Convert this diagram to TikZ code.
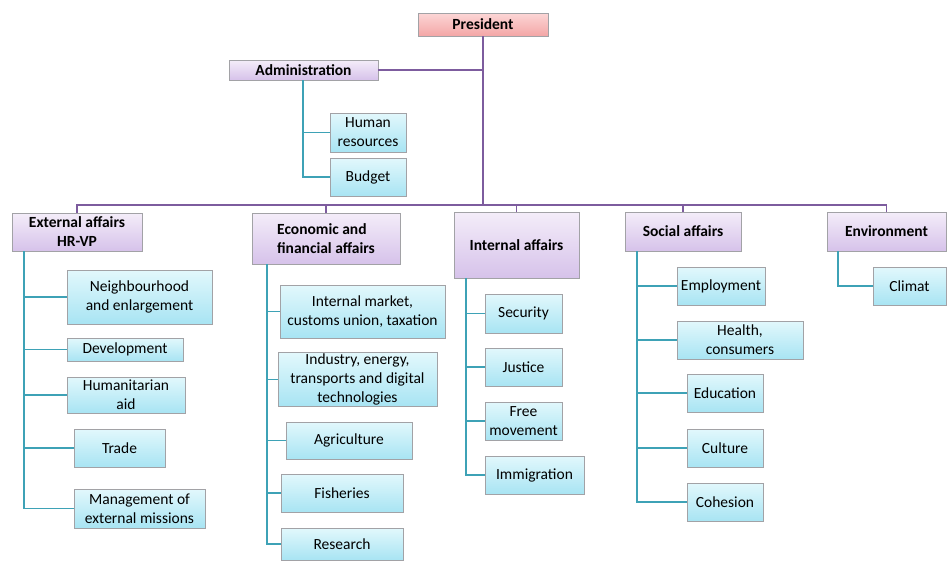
\documentclass[tikz,border=0pt]{standalone}
\usepackage{fontspec}
\setmainfont{Carlito}
\usetikzlibrary{positioning,calc,shadows}

\definecolor{pinktop}{HTML}{FCD6D6}
\definecolor{pinkbot}{HTML}{F3A6A6}
\definecolor{lilactop}{HTML}{F4EDF9}
\definecolor{lilacbot}{HTML}{D6C2EA}
\definecolor{aquatop}{HTML}{E2F8FC}
\definecolor{aquabot}{HTML}{A8E4F3}
\definecolor{boxedge}{HTML}{A2A2A6}
\definecolor{busline}{HTML}{7D5C9E}
\definecolor{twigline}{HTML}{3EA2B6}

\begin{document}
\begin{tikzpicture}[x=1pt, y=-1pt, font=\fontsize{15.5}{19}\selectfont, text=black,
  box/.style = {draw=boxedge, line width=0.6pt, align=center, inner sep=1pt,
                drop shadow={shadow xshift=1.2pt, shadow yshift=-1.2pt, opacity=0.35}},
  head/.style = {box, top color=pinktop, bottom color=pinkbot, font=\fontsize{15.5}{19}\selectfont\bfseries},
  dept/.style = {box, top color=lilactop, bottom color=lilacbot, font=\fontsize{15.5}{19}\selectfont\bfseries},
  unit/.style = {box, top color=aquatop, bottom color=aquabot},
  bus/.style = {draw=busline, line width=1.6pt},
  twig/.style = {draw=twigline, line width=1.8pt}]

\useasboundingbox (0,0) rectangle (947,560);

% top of the chart
\node[head, minimum width=130pt, minimum height=23pt] (pres) at (483,24.5) {President};
\node[dept, minimum width=149pt, minimum height=20pt] (adm) at (303.5,70) {Administration};
\node[unit, minimum width=76pt, minimum height=39pt] (hr) at (368,132.5) {Human\\resources};
\node[unit, minimum width=76pt, minimum height=38pt] (bud) at (368,177) {Budget};

% departments
\node[dept, minimum width=130pt, minimum height=38pt] (ext) at (77,232) {External affairs\\HR-VP};
\node[dept, minimum width=148pt, minimum height=51pt, align=left] (eco) at (326,238.5) {Economic and\\financial affairs};
\node[dept, minimum width=125pt, minimum height=66pt] (int) at (516.5,245) {Internal affairs};
\node[dept, minimum width=116pt, minimum height=39pt] (soc) at (683,231.5) {Social affairs};
\node[dept, minimum width=119pt, minimum height=39pt] (env) at (886.5,231.5) {Environment};

% external affairs
\node[unit, minimum width=145pt, minimum height=54pt] (nb) at (139.5,297) {Neighbourhood\\and enlargement};
\node[unit, minimum width=116pt, minimum height=23pt] (dev) at (125,349.5) {Development};
\node[unit, minimum width=118pt, minimum height=36pt] (hum) at (126,395) {Humanitarian\\aid};
\node[unit, minimum width=91pt, minimum height=38pt] (trd) at (119.5,448) {Trade};
\node[unit, minimum width=131pt, minimum height=39pt] (mgt) at (139.5,508.5) {Management of\\external missions};

% economic and financial affairs
\node[unit, minimum width=165pt, minimum height=53pt] (mkt) at (362.5,311.5) {Internal market,\\customs union, taxation};
\node[unit, minimum width=159pt, minimum height=53pt] (ind) at (357.5,379.5) {Industry, energy,\\transports and digital\\technologies};
\node[unit, minimum width=126pt, minimum height=37pt] (agr) at (349,440.5) {Agriculture};
\node[unit, minimum width=122pt, minimum height=38pt] (fsh) at (342,493) {Fisheries};
\node[unit, minimum width=122pt, minimum height=32pt] (res) at (342,544) {Research};

% internal affairs
\node[unit, minimum width=77pt, minimum height=39pt] (sec) at (523.5,313.5) {Security};
\node[unit, minimum width=77pt, minimum height=38pt] (jus) at (523.5,367) {Justice};
\node[unit, minimum width=77pt, minimum height=38pt] (fre) at (523.5,421) {Free\\movement};
\node[unit, minimum width=99pt, minimum height=38pt] (imm) at (534.5,475) {Immigration};

% social affairs
\node[unit, minimum width=88pt, minimum height=38pt] (emp) at (721,286) {Employment};
\node[unit, minimum width=126pt, minimum height=38pt] (hea) at (740,340) {Health,\\consumers};
\node[unit, minimum width=76pt, minimum height=38pt] (edu) at (725,393) {Education};
\node[unit, minimum width=76pt, minimum height=38pt] (cul) at (725,448) {Culture};
\node[unit, minimum width=76pt, minimum height=38pt] (coh) at (725,502) {Cohesion};

% environment
\node[unit, minimum width=73pt, minimum height=38pt] (cli) at (909.5,286) {Climat};

% spines
\coordinate (bus) at (0,205);
\coordinate (admS) at ([xshift=74pt]adm.south west);
\coordinate (extS) at ([xshift=12pt]ext.south west);
\coordinate (ecoS) at ([xshift=15pt]eco.south west);
\coordinate (intS) at ([xshift=12pt]int.south west);
\coordinate (socS) at ([xshift=12pt]soc.south west);
\coordinate (envS) at ([xshift=11pt]env.south west);

\path[bus] (pres.south) -- (pres.south |- bus)
  (adm.east) -- (adm.east -| pres.south)
  (ext.north) -- (ext.north |- bus) -- (env.north |- bus) -- (env.north)
  (eco.north) -- (eco.north |- bus)
  (int.north) -- (int.north |- bus)
  (soc.north) -- (soc.north |- bus);

\path[twig] (admS) |- (hr.west)  (admS) |- (bud.west);
\path[twig] (extS) |- (nb.west)  (extS) |- (dev.west)  (extS) |- (hum.west)
  (extS) |- (trd.west)  (extS) |- (mgt.west);
\path[twig] (ecoS) |- (mkt.west)  (ecoS) |- (ind.west)  (ecoS) |- (agr.west)
  (ecoS) |- (fsh.west)  (ecoS) |- (res.west);
\path[twig] (intS) |- (sec.west)  (intS) |- (jus.west)  (intS) |- (fre.west)
  (intS) |- (imm.west);
\path[twig] (socS) |- (emp.west)  (socS) |- (hea.west)  (socS) |- (edu.west)
  (socS) |- (cul.west)  (socS) |- (coh.west);
\path[twig] (envS) |- (cli.west);
\end{tikzpicture}
\end{document}
